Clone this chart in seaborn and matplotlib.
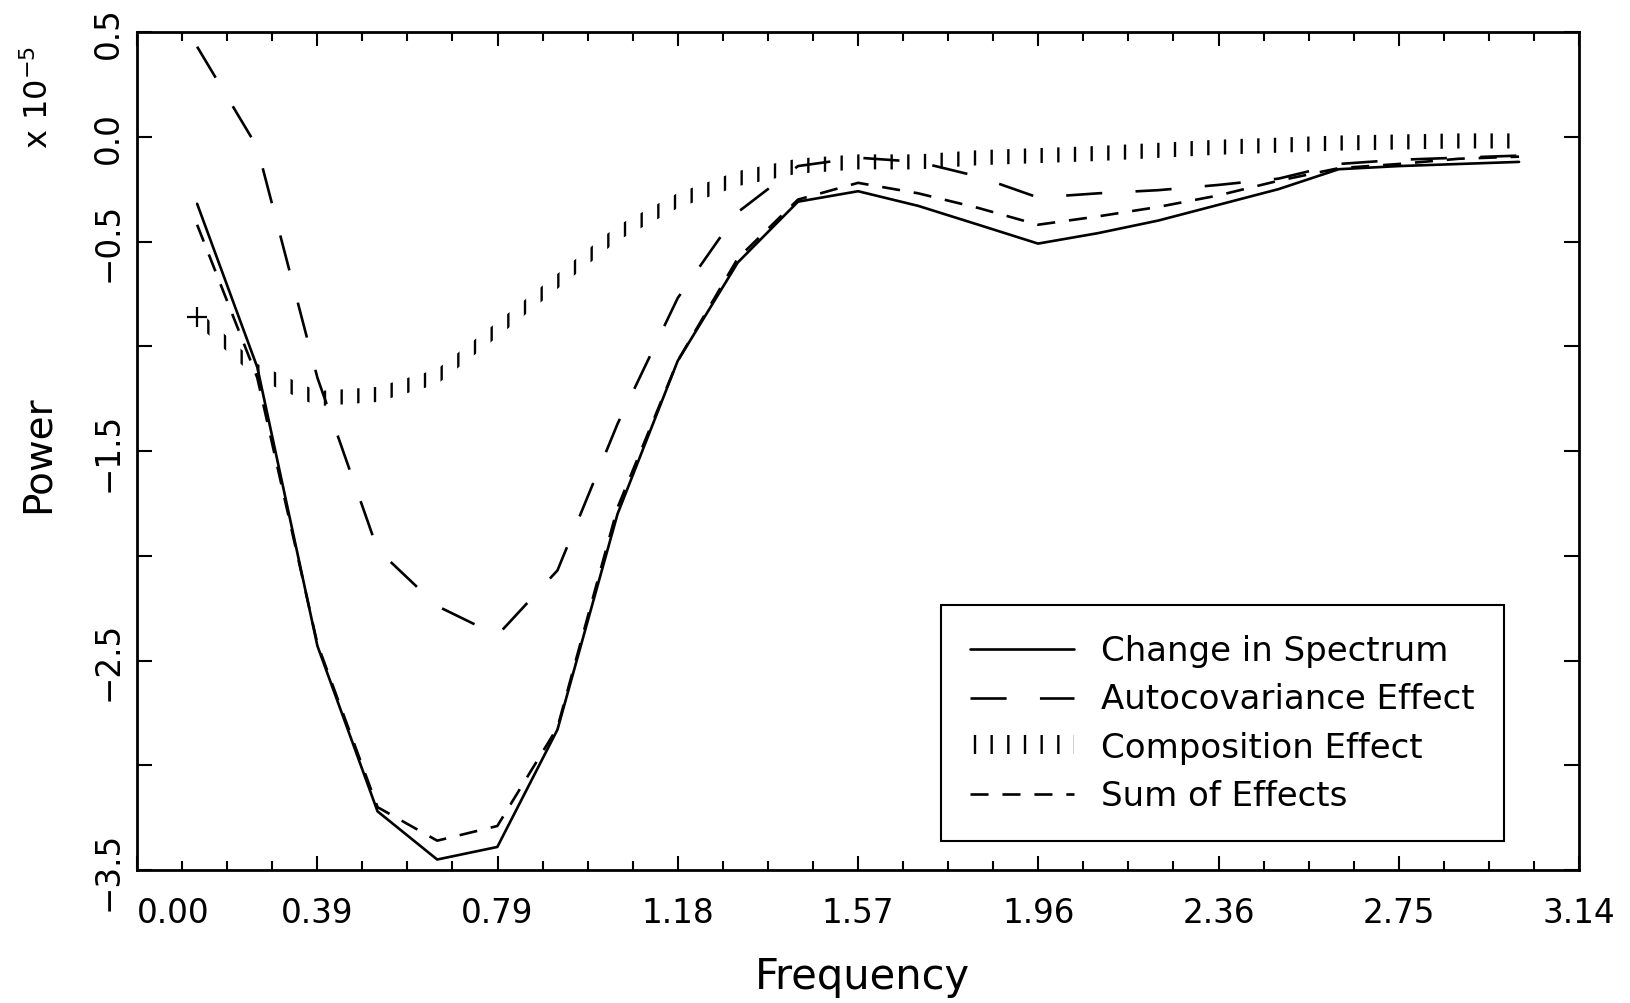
import numpy as np
import pandas as pd
import matplotlib
matplotlib.use('Agg')
import matplotlib.pyplot as plt
import seaborn as sns
from matplotlib.lines import Line2D
from matplotlib.patches import Patch
from matplotlib.ticker import MultipleLocator


# frequencies j*pi/24, j = 1..23
freq = [0.131, 0.262, 0.393, 0.524, 0.654, 0.785, 0.916, 1.047, 1.178, 1.309,
        1.440, 1.571, 1.702, 1.833, 1.963, 2.094, 2.225, 2.356, 2.487, 2.618,
        2.749, 2.880, 3.011]

# values in units of 1e-5
change = [-0.32, -1.10, -2.43, -3.22, -3.45, -3.39, -2.83, -1.80, -1.07, -0.60,
          -0.31, -0.26, -0.33, -0.42, -0.51, -0.46, -0.40, -0.325, -0.25, -0.155,
          -0.14, -0.13, -0.12]
autocov = [0.43, -0.05, -1.15, -1.97, -2.24, -2.38, -2.07, -1.37, -0.77, -0.36,
           -0.14, -0.10, -0.12, -0.19, -0.29, -0.27, -0.255, -0.23, -0.20, -0.13,
           -0.11, -0.10, -0.09]
composition = [-0.86, -1.12, -1.25, -1.23, -1.145, -0.92, -0.69, -0.46, -0.305, -0.20,
               -0.14, -0.12, -0.12, -0.10, -0.09, -0.08, -0.065, -0.05, -0.04, -0.03,
               -0.025, -0.02, -0.02]
total = [-0.42, -1.15, -2.42, -3.20, -3.36, -3.29, -2.82, -1.77, -1.07, -0.58,
         -0.30, -0.22, -0.27, -0.34, -0.42, -0.38, -0.335, -0.28, -0.21, -0.15,
         -0.13, -0.105, -0.095]

labels = ['Change in Spectrum', 'Autocovariance Effect', 'Composition Effect', 'Sum of Effects']
xtick_labels = ['0.00', '0.39', '0.79', '1.18', '1.57', '1.96', '2.36', '2.75', '3.14']
ytick_labels = ['\u22123.5', '', '\u22122.5', '', '\u22121.5', '', '\u22120.5', '0.0', '0.5']

sns.set_style('ticks')
plt.rcParams['font.family'] = ['DejaVu Sans']
plt.rcParams['lines.scale_dashes'] = False
plt.rcParams['hatch.linewidth'] = 1.7
plt.rcParams['axes.linewidth'] = 2.0
plt.rcParams['axes.edgecolor'] = 'black'
plt.rcParams['text.color'] = 'black'
plt.rcParams['xtick.color'] = 'black'
plt.rcParams['ytick.color'] = 'black'
plt.rcParams['axes.labelcolor'] = 'black'

fig = plt.figure(figsize=(16.3, 10.04), dpi=100)
ax = fig.add_axes([137 / 1630, 1 - 871 / 1004, 1442 / 1630, 838 / 1004])

df = pd.DataFrame({
    'freq': freq * 3,
    'power': change + autocov + total,
    'series': [labels[0]] * len(freq) + [labels[1]] * len(freq) + [labels[3]] * len(freq),
})
dash_map = {labels[0]: '', labels[1]: (26, 24), labels[3]: (13, 10)}
sns.lineplot(data=df, x='freq', y='power', style='series', dashes=dash_map,
             color='black', linewidth=1.9, legend=False, ax=ax)

# composition effect: short vertical bars along the curve
comp = np.array(composition)
ax.fill_between(freq, comp - 0.036, comp + 0.036, facecolor='none',
                edgecolor='black', linewidth=0, hatch='|')
ax.plot(freq[0], composition[0], marker='+', color='black', ms=14, mew=1.6, ls='none')

ax.set_xlim(0, np.pi)
ax.set_ylim(-3.5, 0.5)
ax.set_xticks(np.arange(9) * np.pi / 8)
ax.set_xticklabels(xtick_labels)
ax.xaxis.set_minor_locator(MultipleLocator(np.pi / 32))
ax.set_yticks(np.arange(-3.5, 0.51, 0.5))
ax.set_yticklabels(ytick_labels, rotation=90, va='center')
ax.get_xticklabels()[0].set_ha('left')
ax.set_xlabel('')
ax.set_ylabel('')

ax.tick_params(axis='x', which='major', direction='in', length=10, width=1.5,
               top=True, pad=19, labelsize=23.5)
ax.tick_params(axis='x', which='minor', direction='in', length=6.5, width=1.5, top=True)
ax.tick_params(axis='y', which='major', direction='in', length=11, width=1.5,
               right=True, pad=9, labelsize=23.5)

fig.text(0.023, 0.548, 'Power', rotation=90, ha='center', va='center', fontsize=28)
fig.text(0.024, 0.903, r'x 10$^{-5}$', rotation=90, ha='center', va='center', fontsize=23)
fig.text(0.5294, 0.027, 'Frequency', ha='center', va='center', fontsize=30)

handles = [
    Line2D([], [], color='black', lw=1.9),
    Line2D([], [], color='black', lw=1.9, dashes=(26, 24)),
    Patch(facecolor='none', edgecolor='black', linewidth=0, hatch='|'),
    Line2D([], [], color='black', lw=1.9, dashes=(13, 10)),
]
leg = ax.legend(handles, labels, loc='upper left', bbox_to_anchor=(0.5576, 0.3162),
                borderaxespad=0, fontsize=24.5, handlelength=3.05, handleheight=0.45,
                handletextpad=0.8, labelspacing=0.45, borderpad=0.85,
                frameon=True, fancybox=False, framealpha=1, edgecolor='black')
leg.get_frame().set_linewidth(1.5)

fig.savefig('out.png', dpi=100)
